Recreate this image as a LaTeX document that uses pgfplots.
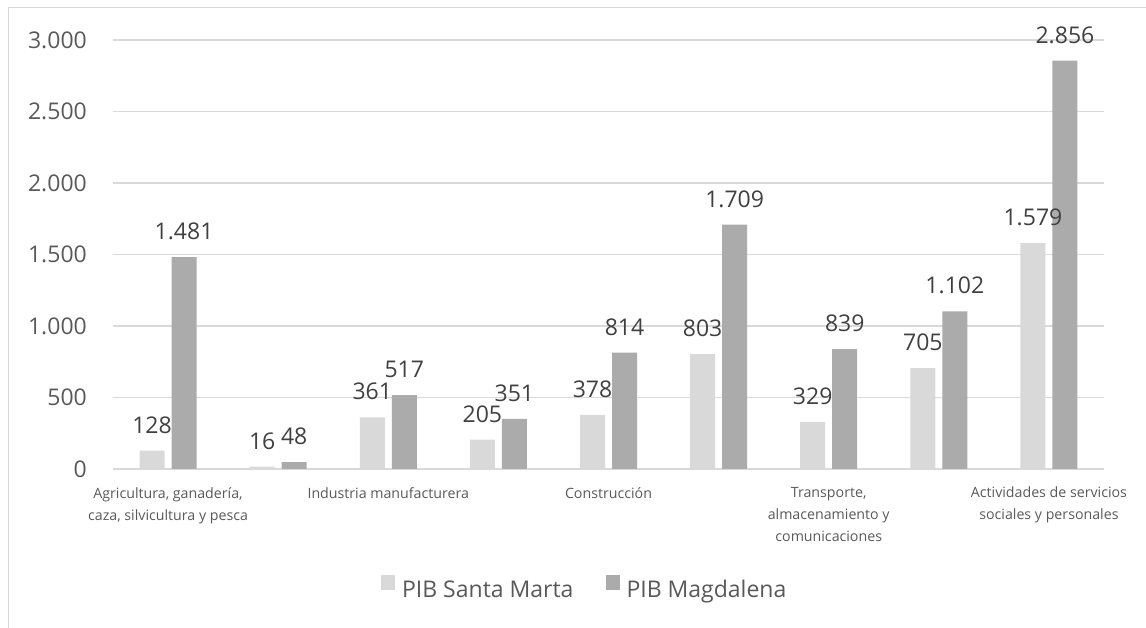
\documentclass[border=0pt]{standalone}
\usepackage{pgfplots}
\pgfplotsset{compat=1.18}
\usepackage{fontspec}
\setmainfont{Open Sans}
\definecolor{sm}{HTML}{D9D9D9}
\definecolor{mg}{HTML}{ABABAB}
\definecolor{gridc}{HTML}{D9D9D9}
\definecolor{txt}{HTML}{595959}
\definecolor{lbl}{HTML}{404040}
\begin{document}
\begin{tikzpicture}
\useasboundingbox (0,0) rectangle (1146pt,628pt);
\draw[gridc, line width=1pt] (8pt,-2pt) -- (8pt,620pt) -- (1150pt,620pt);
\begin{axis}[
  at={(113pt,159pt)}, anchor=south west,
  scale only axis, width=991pt, height=429pt,
  ymin=0, ymax=3000, xmin=-0.5, xmax=8.5,
  ybar=7pt, bar width=25pt,
  ytick={0,500,...,3000},
  scaled y ticks=false,
  xtick={0,2,4,6,8},
  xticklabels={{Agricultura, ganadería,\\caza, silvicultura y pesca},{Industria manufacturera},{Construcción},{Transporte,\\almacenamiento y\\comunicaciones},{Actividades de servicios\\sociales y personales}},
  xticklabel style={align=center, font=\fontsize{14.2}{22}\selectfont, text=txt, inner sep=0pt, yshift=-18pt},
  yticklabel style={font=\fontsize{23}{23}\selectfont, text=txt, inner sep=0pt, xshift=-26pt},
  /pgf/number format/1000 sep={.},
  /pgf/number format/assume math mode=true,
  axis line style={draw=none},
  major tick length=0pt,
  ymajorgrids,
  major grid style={gridc, line width=1.2pt},
  nodes near coords,
  every node near coord/.append style={font=\fontsize{23}{23}\selectfont, text=lbl, inner sep=0pt, anchor=south, yshift=17pt},
  legend style={at={(0.476,-0.277)}, anchor=center, legend columns=2, draw=none, fill=none, font=\fontsize{23}{23}\selectfont, text=txt, /tikz/every even column/.append style={column sep=30pt}},
  legend image code/.code={\fill[#1] (0pt,0pt) rectangle (14pt,15pt); \path (19pt,0pt);},
]
\addplot[fill=sm, draw=none] coordinates {(0,128) (1,16) (2,361) (3,205) (4,378) (5,803) (6,329) (7,705) (8,1579)};
\addplot[fill=mg, draw=none] coordinates {(0,1481) (1,48) (2,517) (3,351) (4,814) (5,1709) (6,839) (7,1102) (8,2856)};
\legend{PIB Santa Marta, PIB Magdalena}
\end{axis}
\end{tikzpicture}
\end{document}
